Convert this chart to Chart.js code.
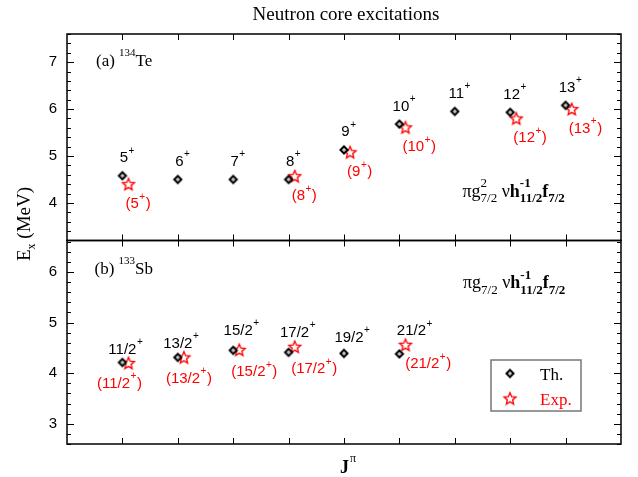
<!DOCTYPE html>
<html><head><meta charset="utf-8">
<script src="https://cdn.jsdelivr.net/npm/chart.js@4"></script>
<style>html,body{margin:0;padding:0;background:#fff}#wrap{width:638px;height:477px;position:relative}</style>
</head><body><div id="wrap"><canvas id="c" width="638" height="477"></canvas></div>
<script>
// ---------------- DATA ----------------
const titleText = 'Neutron core excitations';
const xCategories = [1, 2, 3, 4, 5, 6, 7, 8, 9];
const thTop = [4.58, 4.50, 4.50, 4.50, 5.13, 5.68, 5.95, 5.93, 6.08];
const expTop = [4.40, null, null, 4.57, 5.08, 5.61, null, 5.80, 6.00];
const thTopLabels = ['5^+', '6^+', '7^+', '8^+', '9^+', '10^+', '11^+', '12^+', '13^+'];
const expTopLabels = ['(5^+)', null, null, '(8^+)', '(9^+)', '(10^+)', null, '(12^+)', '(13^+)'];
const thBot = [4.21, 4.31, 4.45, 4.41, 4.39, 4.38];
const expBot = [4.20, 4.31, 4.46, 4.52, null, 4.56];
const thBotLabels = ['11/2^+', '13/2^+', '15/2^+', '17/2^+', '19/2^+', '21/2^+'];
const expBotLabels = ['(11/2^+)', '(13/2^+)', '(15/2^+)', '(17/2^+)', null, '(21/2^+)'];
const yTicksTop = [4, 5, 6, 7];
const yTicksBot = [3, 4, 5, 6];
const legendLabels = ['Th.', 'Exp.'];

// ---------------- STYLE / LAYOUT ----------------
const expShift = 0.11;
const SERIF = '"Liberation Serif", "Times New Roman", serif';
const SANS = '"Liberation Sans", Arial, sans-serif';
const RED = '#ff0000';
const botThOffsets = [[0, -14], [0, -15], [5, -21], [6, -21], [5, -17], [12, -24]];
const botExpOffsets = [[-9, 21], [5, 21.5], [15, 22.5], [19.5, 22.5], null, [22.7, 19.7]];

function makeDiamond() {
  const c = document.createElement('canvas'); c.width = 14; c.height = 14;
  const g = c.getContext('2d'); const r = 3.5;
  g.beginPath(); g.moveTo(7, 7 - r); g.lineTo(7 + r, 7); g.lineTo(7, 7 + r); g.lineTo(7 - r, 7); g.closePath();
  g.fillStyle = '#fff'; g.fill(); g.lineWidth = 2.1; g.strokeStyle = '#000'; g.stroke();
  g.beginPath(); g.arc(7, 7, 0.6, 0, Math.PI * 2); g.fillStyle = '#000'; g.fill();
  return c;
}
function starPath(g, cx, cy, R, r) {
  g.beginPath();
  for (let i = 0; i < 10; i++) {
    const a = -Math.PI / 2 + i * Math.PI / 5; const rr = i % 2 ? r : R;
    const px = cx + rr * Math.cos(a), py = cy + rr * Math.sin(a);
    i ? g.lineTo(px, py) : g.moveTo(px, py);
  }
  g.closePath();
}
function makeStar() {
  const c = document.createElement('canvas'); c.width = 16; c.height = 16;
  const g = c.getContext('2d');
  starPath(g, 8, 8.5, 6.2, 2.8); g.fillStyle = '#fff'; g.fill(); g.strokeStyle = RED; g.lineWidth = 1.35; g.stroke();
  return c;
}
const diamondImg = makeDiamond();
const starImg = makeStar();

function pts(vals, shift) {
  const out = [];
  vals.forEach((v, i) => { if (v !== null) out.push({ x: xCategories[i] + shift, y: v }); });
  return out;
}

function parseLabel(s) {
  const segs = []; let cur = '';
  for (let i = 0; i < s.length; i++) {
    if (s[i] === '^') { if (cur) segs.push({ t: cur, sup: false }); cur = ''; segs.push({ t: s[i + 1], sup: true }); i++; }
    else cur += s[i];
  }
  if (cur) segs.push({ t: cur, sup: false });
  return segs;
}
function drawLabel(ctx, s, x, y, anchor, color, vc) {
  const segs = parseLabel(s);
  const mainF = '15px ' + SANS, supF = '10px ' + SANS;
  let total = 0, firstW = 0;
  segs.forEach((sg, i) => { ctx.font = sg.sup ? supF : mainF; sg.w = ctx.measureText(sg.t).width + (sg.sup ? 1 : 0); if (i === 0) firstW = sg.w; total += sg.w; });
  let sx = x;
  if (anchor === 'center') sx = x - total / 2;
  else if (anchor === 'main') sx = x - firstW / 2;
  const base = y + vc;
  ctx.fillStyle = color; ctx.textAlign = 'left'; ctx.textBaseline = 'alphabetic';
  segs.forEach(sg => {
    ctx.font = sg.sup ? supF : mainF;
    ctx.fillText(sg.t, sg.sup ? sx + 0.5 : sx, sg.sup ? base - 8.5 : base);
    sx += sg.w;
  });
}
function drawFormula(ctx, x, base, parts) {
  let sx = x;
  parts.forEach(p => {
    if (p.stack) {
      ctx.font = (p.bold ? 'bold ' : '') + '13px ' + SERIF;
      const w1 = p.sup ? ctx.measureText(p.sup).width : 0;
      const w2 = p.sub ? ctx.measureText(p.sub).width : 0;
      if (p.sup) ctx.fillText(p.sup, sx, base - 9.5);
      if (p.sub) ctx.fillText(p.sub, sx, base + 5.5);
      sx += Math.max(w1, w2);
    } else {
      ctx.font = (p.bold ? 'bold ' : '') + '18px ' + SERIF;
      ctx.fillText(p.t, sx, base);
      sx += ctx.measureText(p.t).width;
    }
  });
}

const decor = {
  id: 'decor',
  afterDraw(chart) {
    const ctx = chart.ctx; const xs = chart.scales.x;
    const panels = [chart.scales.yTop, chart.scales.yBot];
    ctx.save();
    ctx.strokeStyle = '#000'; ctx.lineWidth = 1.5;
    panels.forEach((ys) => {
      const L = xs.left, R = xs.right, T = ys.top, B = ys.bottom;
      ctx.strokeRect(L, T, R - L, B - T);
      ctx.lineWidth = 1;
      ctx.beginPath();
      xCategories.forEach(c => {
        const px = Math.round(xs.getPixelForValue(c)) + 0.5;
        ctx.moveTo(px, T); ctx.lineTo(px, T + 6);
        ctx.moveTo(px, B); ctx.lineTo(px, B - 6);
      });
      const step = 0.2;
      for (let v = Math.ceil(ys.min / step - 1e-9) * step; v <= ys.max + 1e-9; v += step) {
        const py = Math.round(ys.getPixelForValue(v)) + 0.5;
        const major = Math.abs(v - Math.round(v)) < 1e-6;
        const len = major ? 7 : 4;
        ctx.moveTo(L, py); ctx.lineTo(L + len, py);
        ctx.moveTo(R, py); ctx.lineTo(R - len, py);
      }
      ctx.stroke();
      ctx.lineWidth = 1.5;
    });
    const yT = chart.scales.yTop, yB = chart.scales.yBot;
    thTop.forEach((v, i) => {
      drawLabel(ctx, thTopLabels[i], xs.getPixelForValue(xCategories[i]) + 1.5, yT.getPixelForValue(v) - 19, 'main', '#000', 5.4);
    });
    expTop.forEach((v, i) => {
      if (v === null) return;
      drawLabel(ctx, expTopLabels[i], xs.getPixelForValue(xCategories[i] + expShift) - 3, yT.getPixelForValue(v) + 20, 'left', RED, 3.9);
    });
    thBot.forEach((v, i) => {
      const o = botThOffsets[i];
      drawLabel(ctx, thBotLabels[i], xs.getPixelForValue(xCategories[i]) + o[0], yB.getPixelForValue(v) + o[1], 'main', '#000', 5.4);
    });
    expBot.forEach((v, i) => {
      if (v === null) return;
      const o = botExpOffsets[i];
      drawLabel(ctx, expBotLabels[i], xs.getPixelForValue(xCategories[i] + expShift) + o[0], yB.getPixelForValue(v) + o[1], 'center', RED, 3.9);
    });
    ctx.fillStyle = '#000'; ctx.textBaseline = 'alphabetic'; ctx.textAlign = 'center';
    ctx.font = '19px ' + SERIF;
    ctx.fillText(titleText, (xs.left + xs.right) / 2 + 2, 20);
    ctx.textAlign = 'left';
    function panelLabel(x, b, pre, sup, el) {
      ctx.font = '17px ' + SERIF; ctx.fillText(pre, x, b); let w = ctx.measureText(pre).width;
      ctx.font = '11px ' + SERIF; ctx.fillText(sup, x + w, b - 10); w += ctx.measureText(sup).width;
      ctx.font = '17px ' + SERIF; ctx.fillText(el, x + w, b);
    }
    panelLabel(96, yT.top + 32, '(a) ', '134', 'Te');
    panelLabel(94.5, yB.top + 33.5, '(b) ', '133', 'Sb');
    drawFormula(ctx, 462.5, yT.top + 162.5, [
      { t: 'πg' }, { stack: true, sup: '2', sub: '7/2' }, { t: ' ν' },
      { t: 'h', bold: true }, { stack: true, bold: true, sup: '-1', sub: '11/2' },
      { t: 'f', bold: true }, { stack: true, bold: true, sub: '7/2' }]);
    drawFormula(ctx, 463, yB.top + 48, [
      { t: 'πg' }, { stack: true, sub: '7/2' }, { t: ' ν' },
      { t: 'h', bold: true }, { stack: true, bold: true, sup: '-1', sub: '11/2' },
      { t: 'f', bold: true }, { stack: true, bold: true, sub: '7/2' }]);
    ctx.save();
    ctx.translate(30, 224); ctx.rotate(-Math.PI / 2);
    ctx.font = '19px ' + SERIF;
    const wE = ctx.measureText('E').width;
    ctx.font = '12px ' + SERIF; const wx = ctx.measureText('x').width;
    ctx.font = '19px ' + SERIF; const wM = ctx.measureText(' (MeV)').width;
    let sx = -(wE + wx + wM) / 2;
    ctx.fillText('E', sx, 0); sx += wE;
    ctx.font = '12px ' + SERIF; ctx.fillText('x', sx, 5); sx += wx;
    ctx.font = '19px ' + SERIF; ctx.fillText(' (MeV)', sx, 0);
    ctx.restore();
    ctx.font = 'bold 18px ' + SERIF; ctx.fillText('J', 340, 473);
    const wJ = ctx.measureText('J').width;
    ctx.font = '12px ' + SERIF; ctx.fillText('π', 340 + wJ + 1, 462);
    ctx.strokeStyle = '#777'; ctx.lineWidth = 1.5;
    ctx.strokeRect(491, 360, 90, 51);
    ctx.drawImage(diamondImg, 510 - 7, 373.5 - 7);
    ctx.drawImage(starImg, 510 - 8, 399 - 8.5);
    ctx.font = '17px ' + SERIF;
    ctx.fillStyle = '#000'; ctx.fillText(legendLabels[0], 540, 380);
    ctx.fillStyle = RED; ctx.fillText(legendLabels[1], 540, 405);
    ctx.restore();
  }
};

const yCommon = (ticks) => ({
  type: 'linear', position: 'left', stack: 'panels',
  grid: { display: false, drawTicks: false }, border: { display: false },
  ticks: { font: { family: SANS, size: 15 }, color: '#000', padding: 10 },
  afterBuildTicks: s => { s.ticks = ticks.map(v => ({ value: v })); },
  afterFit: s => { s.width = 67; }
});

new Chart(document.getElementById('c'), {
  type: 'scatter',
  data: {
    datasets: [
      { label: legendLabels[0], data: pts(thTop, 0), yAxisID: 'yTop', pointStyle: diamondImg, pointRadius: 5, showLine: false },
      { label: legendLabels[1], data: pts(expTop, expShift), yAxisID: 'yTop', pointStyle: starImg, pointRadius: 5, showLine: false },
      { label: legendLabels[0], data: pts(thBot, 0), yAxisID: 'yBot', pointStyle: diamondImg, pointRadius: 5, showLine: false },
      { label: legendLabels[1], data: pts(expBot, expShift), yAxisID: 'yBot', pointStyle: starImg, pointRadius: 5, showLine: false }
    ]
  },
  options: {
    responsive: false, animation: false, devicePixelRatio: 1,
    layout: { padding: { top: 34, right: 17, left: 0, bottom: 0 } },
    plugins: { legend: { display: false }, tooltip: { enabled: false } },
    scales: {
      x: { type: 'linear', min: 0, max: 10, grid: { display: false, drawTicks: false }, border: { display: false },
           ticks: { display: false }, afterFit: s => { s.height = 33; } },
      yBot: Object.assign(yCommon(yTicksBot), { min: 2.6, max: 6.62, stackWeight: 204 }),
      yTop: Object.assign(yCommon(yTicksTop), { min: 3.2, max: 7.6, stackWeight: 207 })
    }
  },
  plugins: [decor]
});
</script></body></html>
